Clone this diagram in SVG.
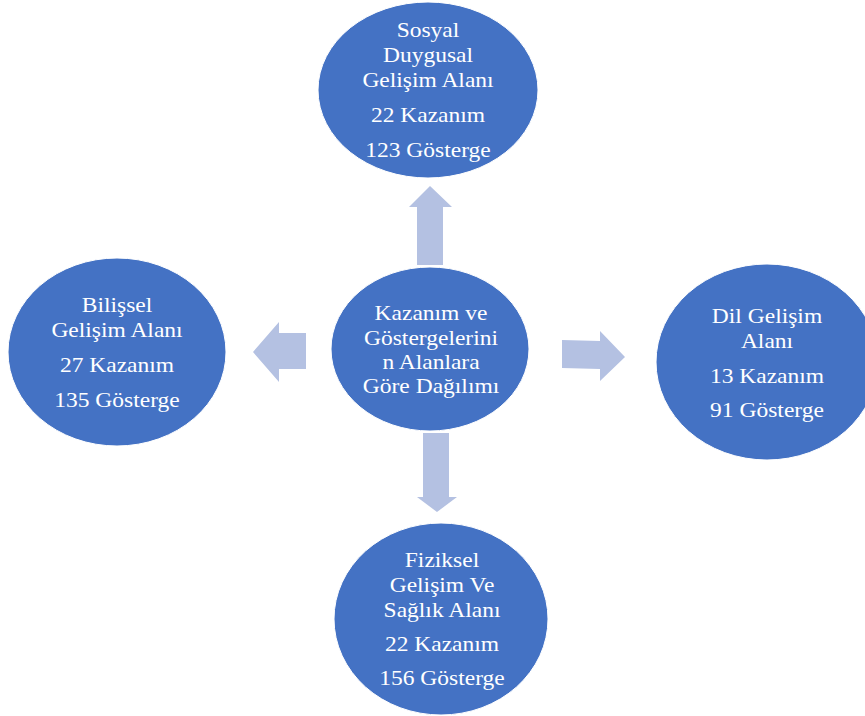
<svg xmlns="http://www.w3.org/2000/svg" width="865" height="716" viewBox="0 0 865 716">
<style>
.node ellipse{fill:#4472C4;stroke:#FFFFFF;stroke-width:1}
.node text{font-family:"Liberation Serif","Times New Roman",serif;font-size:21px;fill:#FFFFFF;text-anchor:middle}
.arrow{fill:#B4C1E2}
</style>
<rect width="865" height="716" fill="#FFFFFF"/>
<g id="connectors">
<polygon class="arrow" points="417,265 417,207 409,207 430,186 452,207 443,207 443,265"/>
<polygon class="arrow" points="306,333 279,333 279,322 253,352 279,382 279,369 306,369"/>
<polygon class="arrow" points="562,340 600,341 600,331 625,357 600,381 600,369 562,368"/>
<polygon class="arrow" points="423,433 449,433 449,497 457,497 437,512 417,497 423,497"/>
</g>
<g id="node-center" class="node">
<ellipse cx="430" cy="349" rx="99" ry="82"/>
<g transform="translate(431 0) scale(1.12 1)">
<text x="0" y="320">Kazanım ve</text>
<text x="0" y="345">Göstergelerini</text>
<text x="0" y="369">n Alanlara</text>
<text x="0" y="393">Göre Dağılımı</text>
</g>
</g>
<g id="node-sosyal" class="node">
<ellipse cx="428" cy="90" rx="110" ry="88"/>
<g transform="translate(428 0) scale(1.12 1)">
<text x="0" y="37">Sosyal</text>
<text x="0" y="62">Duygusal</text>
<text x="0" y="87">Gelişim Alanı</text>
<text x="0" y="122">22 Kazanım</text>
<text x="0" y="157">123 Gösterge</text>
</g>
</g>
<g id="node-bilissel" class="node">
<ellipse cx="117" cy="352" rx="109" ry="94"/>
<g transform="translate(117 0) scale(1.12 1)">
<text x="0" y="312">Bilişsel</text>
<text x="0" y="337">Gelişim Alanı</text>
<text x="0" y="372">27 Kazanım</text>
<text x="0" y="407">135 Gösterge</text>
</g>
</g>
<g id="node-dil" class="node">
<ellipse cx="767" cy="362" rx="111" ry="98"/>
<g transform="translate(767 0) scale(1.12 1)">
<text x="0" y="323">Dil Gelişim</text>
<text x="0" y="348">Alanı</text>
<text x="0" y="383">13 Kazanım</text>
<text x="0" y="417">91 Gösterge</text>
</g>
</g>
<g id="node-fiziksel" class="node">
<ellipse cx="441" cy="619" rx="107" ry="96"/>
<g transform="translate(442 0) scale(1.12 1)">
<text x="0" y="567">Fiziksel</text>
<text x="0" y="592">Gelişim Ve</text>
<text x="0" y="617">Sağlık Alanı</text>
<text x="0" y="651">22 Kazanım</text>
<text x="0" y="685">156 Gösterge</text>
</g>
</g>
</svg>
